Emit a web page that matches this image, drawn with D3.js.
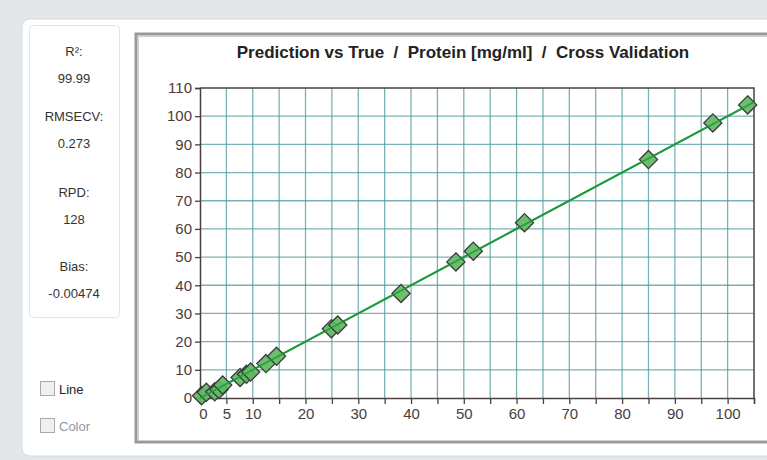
<!DOCTYPE html>
<html>
<head>
<meta charset="utf-8">
<script src="https://cdn.jsdelivr.net/npm/d3@7"></script>
<style>
  body { margin: 0; background: #e3e7ea; }
  svg { display: block; font-family: "Liberation Sans", Arial, sans-serif; }
</style>
</head>
<body>
<script>
// measured (true) vs cross-validated (predicted) protein, mg/ml
var trueVals = [0.3, 1.2, 2.8, 3.6, 4.3, 7.6, 8.8, 9.6, 12.5, 14.5, 24.9, 26.1, 38.1, 48.5, 51.8, 61.5, 85.0, 97.2, 103.8];
var predVals = [0.8, 2.0, 2.2, 3.0, 4.6, 7.3, 8.4, 9.2, 12.2, 14.8, 24.6, 25.9, 37.1, 48.3, 52.1, 62.2, 84.6, 97.6, 104.0];

var statLabels = ["R\u00b2:", "RMSECV:", "RPD:", "Bias:"];
var statValues = ["99.99", "0.273", "128", "-0.00474"];

var xTicks = d3.range(0, 106, 5);
var yTicks = d3.range(0, 111, 10);
var titleText = "Prediction vs True  /  Protein [mg/ml]  /  Cross Validation";

var W = 767, H = 460;
var svg = d3.select("body").append("svg").attr("width", W).attr("height", H);

// white panel
svg.append("rect").attr("x", 22).attr("y", 19).attr("width", 760).attr("height", 437)
    .attr("rx", 8).attr("fill", "#fff").attr("stroke", "#d6dce0");

// stats box
svg.append("rect").attr("x", 29.5).attr("y", 25.5).attr("width", 90).attr("height", 292)
    .attr("rx", 4).attr("fill", "#fff").attr("stroke", "#e1e6ea");

var statY = [56, 121, 197, 271];
var stats = svg.append("g").attr("font-size", 13).attr("fill", "#333").attr("text-anchor", "middle");
statLabels.forEach(function(s, i) {
    stats.append("text").attr("x", 74).attr("y", statY[i]).text(s);
    stats.append("text").attr("x", 74).attr("y", statY[i] + 27).text(statValues[i]);
});

// checkboxes
function checkbox(y, label, color) {
    svg.append("rect").attr("x", 40.5).attr("y", y - 7.5).attr("width", 14).attr("height", 14)
        .attr("fill", "#f0f0f0").attr("stroke", "#a9a9a9");
    svg.append("text").attr("x", 59).attr("y", y + 4.5).attr("font-size", 13)
        .attr("fill", color).text(label);
}
checkbox(389, "Line", "#222");
checkbox(426, "Color", "#9096a8");

// chart frame
svg.append("rect").attr("x", 136).attr("y", 34).attr("width", 640).attr("height", 408)
    .attr("fill", "#fff").attr("stroke", "#9a9a9a").attr("stroke-width", 3);
svg.append("rect").attr("x", 138.5).attr("y", 36.5).attr("width", 640).attr("height", 404)
    .attr("fill", "none").attr("stroke", "#d0d0d0").attr("stroke-width", 1);

svg.append("text").attr("x", 463).attr("y", 58).attr("text-anchor", "middle")
    .attr("font-size", 17).attr("font-weight", "bold").attr("fill", "#222")
    .style("white-space", "pre").text(titleText);

var x = d3.scaleLinear().domain([0, 105]).range([200, 754]);
var y = d3.scaleLinear().domain([0, 110]).range([398, 88]);

// grid
var grid = svg.append("g").attr("stroke", "#4e9899").attr("stroke-width", 1.3).attr("stroke-opacity", 0.75);
grid.selectAll(".gx").data(xTicks.filter(function(d) { return d > 0 && d < 105; }))
    .enter().append("line")
    .attr("x1", function(d) { return x(d); }).attr("x2", function(d) { return x(d); })
    .attr("y1", y(0)).attr("y2", y(110));
grid.selectAll(".gy").data(yTicks.filter(function(d) { return d > 0 && d < 110; }))
    .enter().append("line")
    .attr("x1", x(0)).attr("x2", x(105))
    .attr("y1", function(d) { return y(d); }).attr("y2", function(d) { return y(d); });

// top and right borders
svg.append("path").attr("d", "M" + x(0) + "," + y(110) + "H" + x(105) + "V" + y(0))
    .attr("fill", "none").attr("stroke", "#4a4040").attr("stroke-width", 1.5);

// axes
var xAxis = d3.axisBottom(x).tickValues(xTicks).tickSize(6).tickPadding(4)
    .tickFormat(function(d) { return (d <= 10 || (d % 10 === 0 && d <= 100)) ? d : ""; });
var yAxis = d3.axisLeft(y).tickValues(yTicks).tickSize(5).tickPadding(3);

var gx = svg.append("g").attr("transform", "translate(0," + y(0) + ")").call(xAxis);
var gy = svg.append("g").attr("transform", "translate(" + x(0) + ",0)").call(yAxis);
[gx, gy].forEach(function(g) {
    g.select(".domain").attr("stroke", "#4a4040").attr("stroke-width", 1.5);
    g.selectAll(".tick line").attr("stroke", "#4a4040").attr("stroke-width", 1.3);
    g.selectAll(".tick text").attr("font-size", 15).attr("fill", "#4a3c3c")
        .attr("font-family", "'Liberation Sans', Arial, sans-serif");
});
gx.selectAll(".tick text").attr("dx", function(d) { return d === 0 ? 3 : 0; });

// fit line
svg.append("line").attr("x1", x(0)).attr("y1", y(0)).attr("x2", x(105)).attr("y2", y(105))
    .attr("stroke", "#1c9a3c").attr("stroke-width", 2);

// points
var pts = trueVals.map(function(t, i) { return { t: t, p: predVals[i] }; });
svg.append("g").selectAll("path").data(pts).enter().append("path")
    .attr("transform", function(d) { return "translate(" + x(d.t) + "," + y(d.p) + ")"; })
    .attr("d", d3.symbol().type(d3.symbolDiamond2).size(210))
    .attr("fill", "#62b862").attr("fill-opacity", 0.92)
    .attr("stroke", "#3a3a3a").attr("stroke-width", 1.3);

// line drawn again over the markers, as in the reference
svg.append("line").attr("x1", x(0)).attr("y1", y(0)).attr("x2", x(105)).attr("y2", y(105))
    .attr("stroke", "#1c9a3c").attr("stroke-width", 1.6).attr("stroke-opacity", 0.85);
</script>
</body>
</html>
